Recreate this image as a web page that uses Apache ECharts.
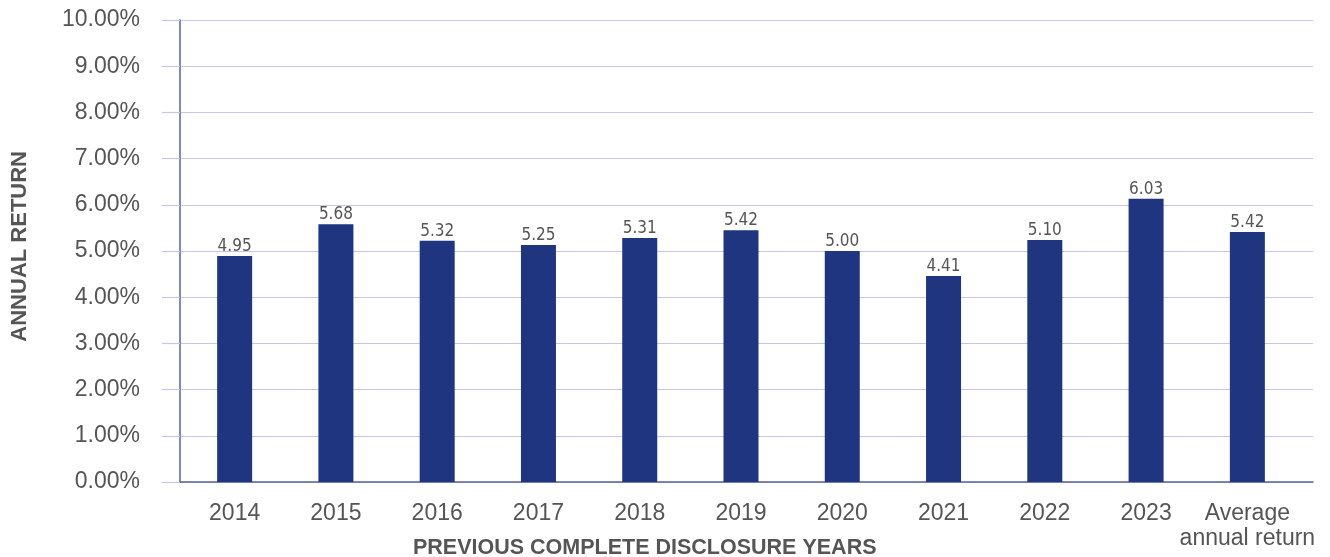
<!DOCTYPE html>
<html>
<head>
<meta charset="utf-8">
<script src="https://cdn.jsdelivr.net/npm/echarts@6/dist/echarts.min.js"></script>
<style>
html,body{margin:0;padding:0;background:#fff;}
#chart{width:1330px;height:557px;}
</style>
</head>
<body>
<div id="chart"></div>
<script>
// Data
var categories = ['2014','2015','2016','2017','2018','2019','2020','2021','2022','2023','Average\nannual return'];
// bar heights as drawn (in %)
var barValues = [4.89, 5.58, 5.22, 5.13, 5.28, 5.45, 5.00, 4.46, 5.24, 6.13, 5.41];
// printed value labels
var valueLabels = ['4.95','5.68','5.32','5.25','5.31','5.42','5.00','4.41','5.10','6.03','5.42'];
var yTicks = [0,1,2,3,4,5,6,7,8,9,10];

var textColor = '#555555';
var gridColor = '#c6c8e2';
var axisColor = '#5563a3';
var barColor = '#1f3580';

var chart = echarts.init(document.getElementById('chart'));
chart.setOption({
  animation: false,
  backgroundColor: '#ffffff',
  grid: [
    {left: 180, right: 17, top: 20, bottom: 75},
    {left: 184, right: 32, top: 20, bottom: 75}
  ],
  xAxis: [
    {type: 'category', gridIndex: 0, data: categories,
      axisLine: {show: true, lineStyle: {color: axisColor, width: 1.5}},
      axisTick: {show: false}, axisLabel: {show: false}, splitLine: {show: false}},
    {type: 'category', gridIndex: 1, data: categories,
      axisLine: {show: false}, axisTick: {show: false},
      axisLabel: {show: true, interval: 0, color: textColor, fontFamily: 'Liberation Sans, Arial, sans-serif',
        fontSize: 23, margin: 19, lineHeight: 25}}
  ],
  yAxis: [
    {type: 'value', gridIndex: 0, min: yTicks[0], max: yTicks[yTicks.length-1], interval: 1,
      axisLine: {show: true, lineStyle: {color: axisColor, width: 1.5}},
      axisTick: {show: true, length: 18, lineStyle: {color: gridColor, width: 1.2}},
      axisLabel: {show: true, margin: 40, color: textColor, fontFamily: 'Liberation Sans, Arial, sans-serif', fontSize: 23,
        formatter: function(v){ return v.toFixed(2) + '%'; }},
      splitLine: {show: true, lineStyle: {color: gridColor, width: 1.2}}},
    {type: 'value', gridIndex: 1, min: 0, max: 10, interval: 1, show: false}
  ],
  series: [{
    type: 'bar', xAxisIndex: 1, yAxisIndex: 1,
    data: barValues, barWidth: 35,
    itemStyle: {color: barColor},
    label: {show: true, position: 'top', distance: 1, color: textColor,
      fontFamily: '"Liberation Sans Narrow", "DejaVu Sans Condensed", sans-serif', fontSize: 17,
      formatter: function(p){ return valueLabels[p.dataIndex]; }}
  }],
  graphic: [
    {type: 'text', left: 9, top: 151, rotation: Math.PI/2,
      style: {text: 'ANNUAL RETURN', fill: textColor, font: 'bold 22px "Liberation Sans", Arial, sans-serif'}},
    {type: 'text', left: 413, top: 537,
      style: {text: 'PREVIOUS COMPLETE DISCLOSURE YEARS', fill: textColor, font: 'bold 21.5px "Liberation Sans", Arial, sans-serif'}}
  ]
});
</script>
</body>
</html>
